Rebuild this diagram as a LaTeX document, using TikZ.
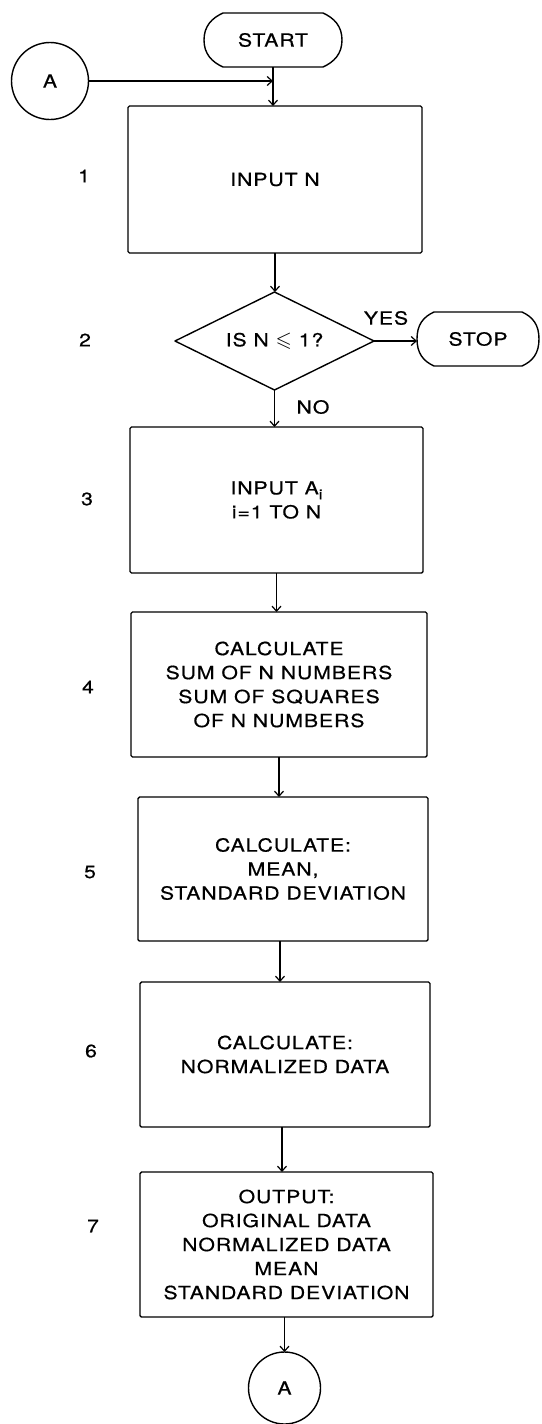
\documentclass[tikz,border=0pt]{standalone}
\usepackage{fontspec}
\setmainfont{TeX Gyre Heros}[FakeStretch=1.18,LetterSpace=5,FakeBold=0.6]
\usepackage{amssymb}
\usetikzlibrary{arrows.meta}
\newcommand\termoutline[2]{%
  \draw[outline] ([xshift=#2]#1.north west) -- ([xshift=-#2]#1.north east)
    .. controls ([xshift=-#2+11pt,yshift=-5pt]#1.north east) and ([yshift=14pt]#1.east) .. (#1.east)
    .. controls ([yshift=-14pt]#1.east) and ([xshift=-#2+11pt,yshift=5pt]#1.south east) .. ([xshift=-#2]#1.south east)
    -- ([xshift=#2]#1.south west)
    .. controls ([xshift=#2-11pt,yshift=5pt]#1.south west) and ([yshift=-14pt]#1.west) .. (#1.west)
    .. controls ([yshift=14pt]#1.west) and ([xshift=#2-11pt,yshift=-5pt]#1.north west) .. ([xshift=#2]#1.north west)
    -- cycle;}
\begin{document}
\begin{tikzpicture}[x=1pt,y=-1pt,
  every node/.style={font=\fontsize{18}{24}\selectfont, text=black},
  box/.style={draw, line width=1.4pt, rounded corners=1.5pt, inner sep=0pt, outer sep=0pt, align=center},
  plain/.style={draw=none, inner sep=0pt, outer sep=0pt, align=center},
  conn/.style={draw, circle, line width=1.4pt, inner sep=0pt, outer sep=0pt},
  arr/.style={line width=1.2pt, -{Straight Barb[length=5pt,width=9pt,line width=1.2pt]}},
  outline/.style={line width=1.4pt},
  steplabel/.style={inner sep=0pt},
]
\useasboundingbox (0,0) rectangle (541,1424);

% terminals and connectors
\node[plain, minimum width=138pt, minimum height=54pt] (start) at (273,40) {START};
\termoutline{start}{19pt}
\node[conn, minimum size=77pt] (cA) at (50,81) {A};
\node[conn, minimum size=72pt] (cA2) at (284.5,1388) {A};

% process boxes
\node[box, minimum width=294pt, minimum height=147pt] (b1) at (275,179.5) {INPUT N};
\node[plain, minimum width=199pt, minimum height=98pt] (d) at (274.5,341) {IS N {\fontsize{21}{21}\selectfont$\leqslant$} 1?};
\draw[outline, line join=round] (d.north) -- (d.east) -- (d.south) -- (d.west) -- cycle;
\node[plain, minimum width=122pt, minimum height=54pt] (stop) at (478,339) {STOP};
\termoutline{stop}{17pt}
\node[box, minimum width=293pt, minimum height=146pt] (b3) at (276.5,500) {INPUT A\raisebox{-5pt}{\fontsize{14}{14}\selectfont i}\\i=1 TO N};
\node[box, minimum width=296pt, minimum height=145pt] (b4) at (279,684.5) {CALCULATE\\SUM OF N NUMBERS\\SUM OF SQUARES\\OF N NUMBERS};
\node[box, minimum width=290pt, minimum height=144pt] (b5) at (283,869) {CALCULATE:\\MEAN,\\STANDARD DEVIATION};
\node[box, minimum width=290pt, minimum height=145pt] (b6) at (285,1054.5) {CALCULATE:\\NORMALIZED DATA};
\node[box, minimum width=293pt, minimum height=145pt] (b7) at (286.5,1244.5) {OUTPUT:\\ORIGINAL DATA\\NORMALIZED DATA\\MEAN\\STANDARD DEVIATION};

% step numbers
\node[steplabel] (n1) at (84,176) {1};
\node[steplabel] (n2) at (85,340) {2};
\node[steplabel] (n3) at (87,499) {3};
\node[steplabel] (n4) at (88,687) {4};
\node[steplabel] (n5) at (90,872) {5};
\node[steplabel] (n6) at (91,1051) {6};
\node[steplabel] (n7) at (93,1226) {7};

% branch labels
\node[steplabel] (yes) at (386,318) {YES};
\node[steplabel] (no) at (313,407) {NO};

% connectors
\coordinate (j) at (start.south |- cA.east);
\draw[arr] (cA.east) -- (j);
\draw[arr] (start.south) -- (start.south |- b1.north);
\draw[arr] (b1.south) -- (b1.south |- d.north);
\draw[arr] (d.east) -- (d.east -| stop.west);
\draw[arr] (d.south) -- (d.south |- b3.north);
\draw[arr] (b3.south) -- (b3.south |- b4.north);
\draw[arr] (b4.south) -- (b4.south |- b5.north);
\draw[arr] ([xshift=-3pt]b5.south) -- ([xshift=-3pt]b5.south |- b6.north);
\draw[arr] ([xshift=-3pt]b6.south) -- ([xshift=-3pt]b6.south |- b7.north);
\draw[arr] (cA2.north |- b7.south) -- (cA2.north);
\end{tikzpicture}
\end{document}
